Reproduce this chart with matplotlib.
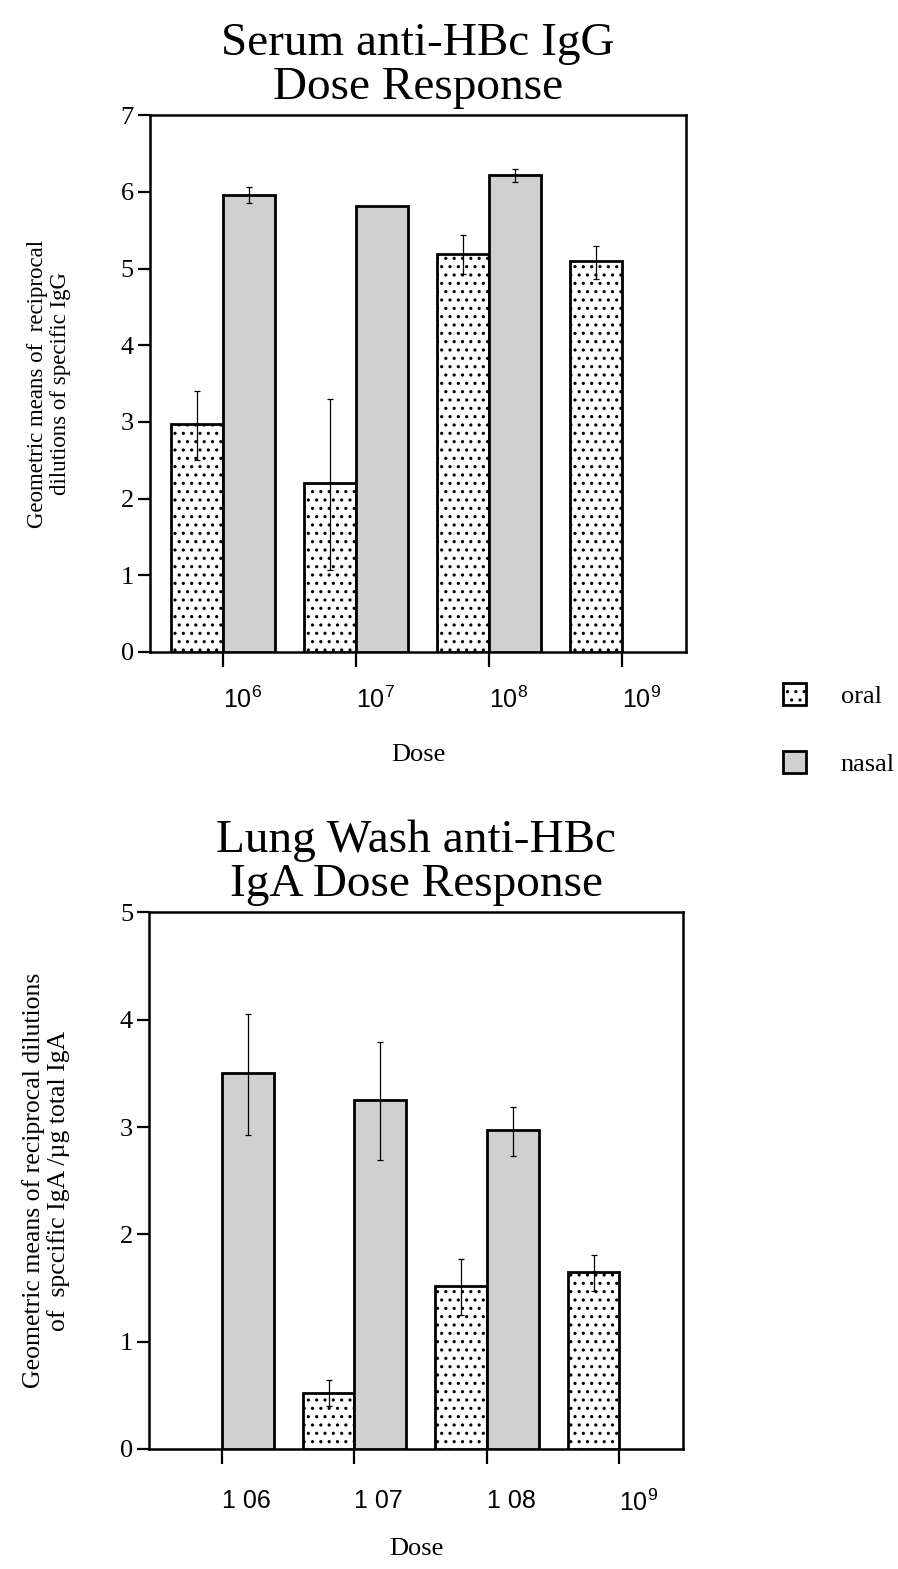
import numpy as np
import matplotlib
matplotlib.use("Agg")
import matplotlib.pyplot as plt
from matplotlib.patches import Patch
from matplotlib.transforms import ScaledTranslation

plt.rcParams["font.family"] = ["Liberation Serif", "DejaVu Serif"]
plt.rcParams["mathtext.fontset"] = "custom"
plt.rcParams["mathtext.rm"] = "Liberation Sans"
plt.rcParams["hatch.linewidth"] = 1.1

# data (nan = no bar / no error bar)
top_ticks = ["$10^6$", "$10^7$", "$10^8$", "$10^9$"]
top_oral = [2.97, 2.21, 5.19, 5.10]
top_oral_lo = [2.50, 1.07, 4.93, 4.87]
top_oral_hi = [3.40, 3.30, 5.44, 5.29]
top_nasal = [5.96, 5.82, 6.22, np.nan]
top_nasal_lo = [5.85, np.nan, 6.13, np.nan]
top_nasal_hi = [6.06, np.nan, 6.30, np.nan]

bot_ticks = ["1 06", "1 07", "1 08", "$10^9$"]
bot_oral = [np.nan, 0.52, 1.52, 1.65]
bot_oral_lo = [np.nan, 0.40, 1.25, 1.47]
bot_oral_hi = [np.nan, 0.64, 1.77, 1.81]
bot_nasal = [3.50, 3.25, 2.97, np.nan]
bot_nasal_lo = [2.93, 2.69, 2.73, np.nan]
bot_nasal_hi = [4.05, 3.79, 3.19, np.nan]

ORAL_HATCH = ".."
NASAL_COLOR = "#d0d0d0"
W = 0.39


def draw_errors(ax, x, val, lo, hi):
    val, lo, hi = np.array(val), np.array(lo), np.array(hi)
    ok = ~np.isnan(lo)
    ax.errorbar(x[ok], val[ok], yerr=[val[ok] - lo[ok], hi[ok] - val[ok]],
                fmt="none", ecolor="black", elinewidth=0.9, capsize=2.5, capthick=0.9, zorder=4)


def panel(ax, ticks, oral, olo, ohi, nasal, nlo, nhi, ymax, title, ylabel, ylsize, xpad, xlpad):
    x = np.arange(len(ticks))
    ax.bar(x - W / 2, oral, W, color="white", edgecolor="black", hatch=ORAL_HATCH,
           linewidth=2.0, label="oral", zorder=3)
    ax.bar(x + W / 2, nasal, W, color=NASAL_COLOR, edgecolor="black",
           linewidth=2.0, label="nasal", zorder=3)
    draw_errors(ax, x - W / 2, oral, olo, ohi)
    draw_errors(ax, x + W / 2, nasal, nlo, nhi)

    ax.set_xlim(-0.55, 3.48)
    ax.set_ylim(0, ymax)
    ax.set_yticks(range(ymax + 1))
    ax.set_xticks(x)
    ax.set_xticklabels(ticks, fontsize=18, family="Liberation Sans")
    for lab in ax.get_xticklabels():
        lab.set_ha("left")
        lab.set_transform(lab.get_transform() + ScaledTranslation(-0.08, 0, ax.figure.dpi_scale_trans))
    ax.tick_params(axis="x", direction="out", length=11, width=1.6, pad=xpad)
    ax.tick_params(axis="y", direction="out", length=8.5, width=1.6, labelsize=19, pad=3)
    for s in ax.spines.values():
        s.set_linewidth(1.8)
    ax.set_title(title, fontsize=34, linespacing=1.05, pad=12)
    ax.set_ylabel(ylabel, fontsize=ylsize, labelpad=36, linespacing=1.1)
    ax.set_xlabel("Dose", fontsize=19, labelpad=xlpad)


fig = plt.figure(figsize=(8.98, 15.69), dpi=100)
ax1 = fig.add_axes([0.167, 0.5845, 0.597, 0.342])
ax2 = fig.add_axes([0.166, 0.0765, 0.5946, 0.342])

panel(ax1, top_ticks, top_oral, top_oral_lo, top_oral_hi, top_nasal, top_nasal_lo, top_nasal_hi,
      7, "Serum anti-HBc IgG\nDose Response",
      "Geometric means of  reciprocal\ndilutions of specific IgG", 16.5, 14, 22)
panel(ax2, bot_ticks, bot_oral, bot_oral_lo, bot_oral_hi, bot_nasal, bot_nasal_lo, bot_nasal_hi,
      5, "Lung Wash anti-HBc\nIgA Dose Response",
      "Geometric means of reciprocal dilutions\nof  spccific IgA /\u00b5g total IgA", 18.5, 18, 16)

handles = [Patch(facecolor="white", edgecolor="black", hatch=ORAL_HATCH, linewidth=2.0, label="oral"),
           Patch(facecolor=NASAL_COLOR, edgecolor="black", linewidth=2.0, label="nasal")]
fig.legend(handles=handles, loc="center left", bbox_to_anchor=(0.845, 0.535), frameon=False,
           fontsize=19, handlelength=0.9, handleheight=0.9, labelspacing=1.6, handletextpad=1.3)

fig.savefig("out.png", dpi=100)
